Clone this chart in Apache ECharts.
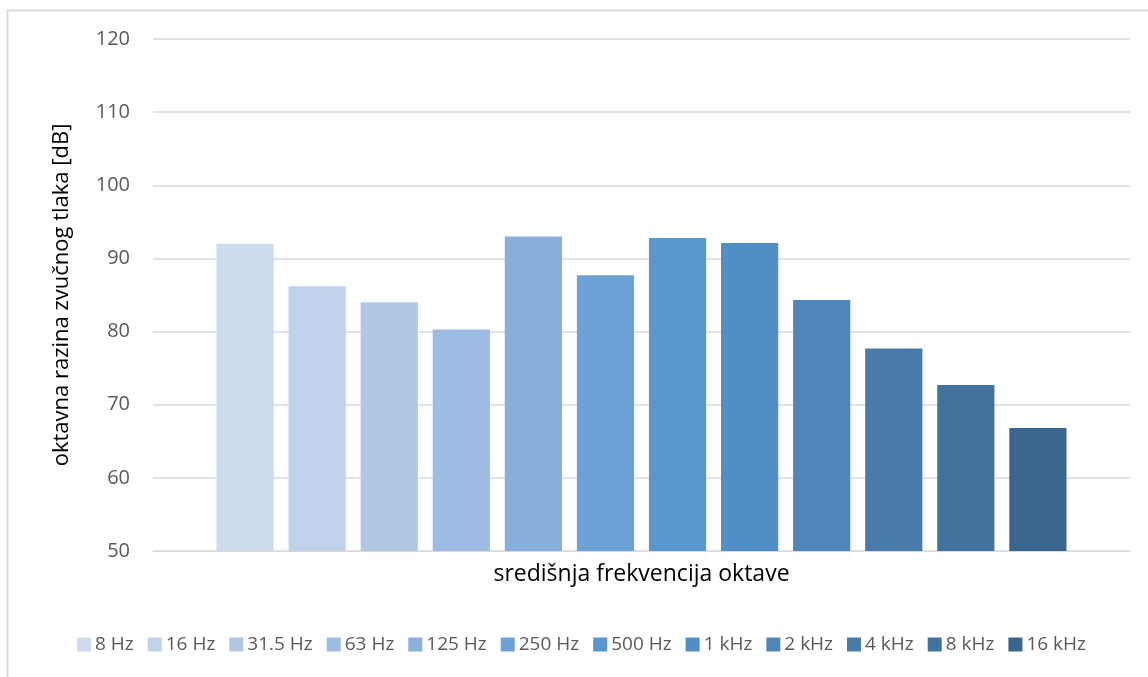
<!DOCTYPE html>
<html>
<head>
<meta charset="utf-8">
<script src="https://cdn.jsdelivr.net/npm/echarts@6/dist/echarts.min.js"></script>
<style>
  html, body { margin: 0; padding: 0; background: #fff; }
  #chart { width: 1148px; height: 677px; }
</style>
</head>
<body>
<div id="chart"></div>
<script>
const bands = ['8 Hz', '16 Hz', '31.5 Hz', '63 Hz', '125 Hz', '250 Hz', '500 Hz', '1 kHz', '2 kHz', '4 kHz', '8 kHz', '16 kHz']
const levels = [92.0, 86.2, 84.0, 80.3, 93.0, 87.7, 92.8, 92.1, 84.3, 77.7, 72.7, 66.8]
const colors = ['#cfdcee', '#c1d3eb', '#b2c7e5', '#9dbce3', '#89b0dc', '#6da2d7',
                '#5897d0', '#528fc6', '#4f86b9', '#487baa', '#42729e', '#3a658d']

const chart = echarts.init(document.getElementById('chart'))

const series = bands.map((name, i) => ({
    name: name,
    type: 'bar',
    data: [levels[i]],
    barGap: '26%',
    barCategoryGap: '13%',
    itemStyle: { color: colors[i] }
}))

const option = {
    animation: false,
    color: colors,
    textStyle: { fontFamily: 'Open Sans' },
    graphic: [{
        type: 'rect',
        shape: { x: 7.5, y: 10.5, width: 1150, height: 700 },
        style: { fill: 'none', stroke: '#d9d9d9', lineWidth: 2 },
        silent: true
    }],
    grid: { left: 153, right: 18, top: 39, bottom: 126 },
    legend: {
        bottom: 18,
        left: 72,
        itemWidth: 14,
        itemHeight: 14,
        itemGap: 14,
        icon: 'rect',
        textStyle: { fontSize: 19, color: '#595959', padding: [0, 0, 0, -1] },
        data: bands
    },
    xAxis: {
        type: 'category',
        data: [''],
        name: 'središnja frekvencija oktave',
        nameLocation: 'middle',
        nameGap: 12,
        nameTextStyle: { fontSize: 23, color: '#000' },
        axisLine: { lineStyle: { color: '#d9d9d9', width: 1 } },
        axisTick: { show: false },
        axisLabel: { show: false }
    },
    yAxis: {
        type: 'value',
        min: 50,
        max: 120,
        interval: 10,
        name: 'oktavna razina zvučnog tlaka [dB]',
        nameLocation: 'middle',
        nameGap: 80,
        nameTextStyle: { fontSize: 22, color: '#000' },
        axisLine: { show: false },
        axisTick: { show: false },
        axisLabel: { fontSize: 20, color: '#595959', margin: 23 },
        splitLine: { lineStyle: { color: '#d9d9d9', width: 1.5 } }
    },
    series: series
}

chart.setOption(option)
</script>
</body>
</html>
